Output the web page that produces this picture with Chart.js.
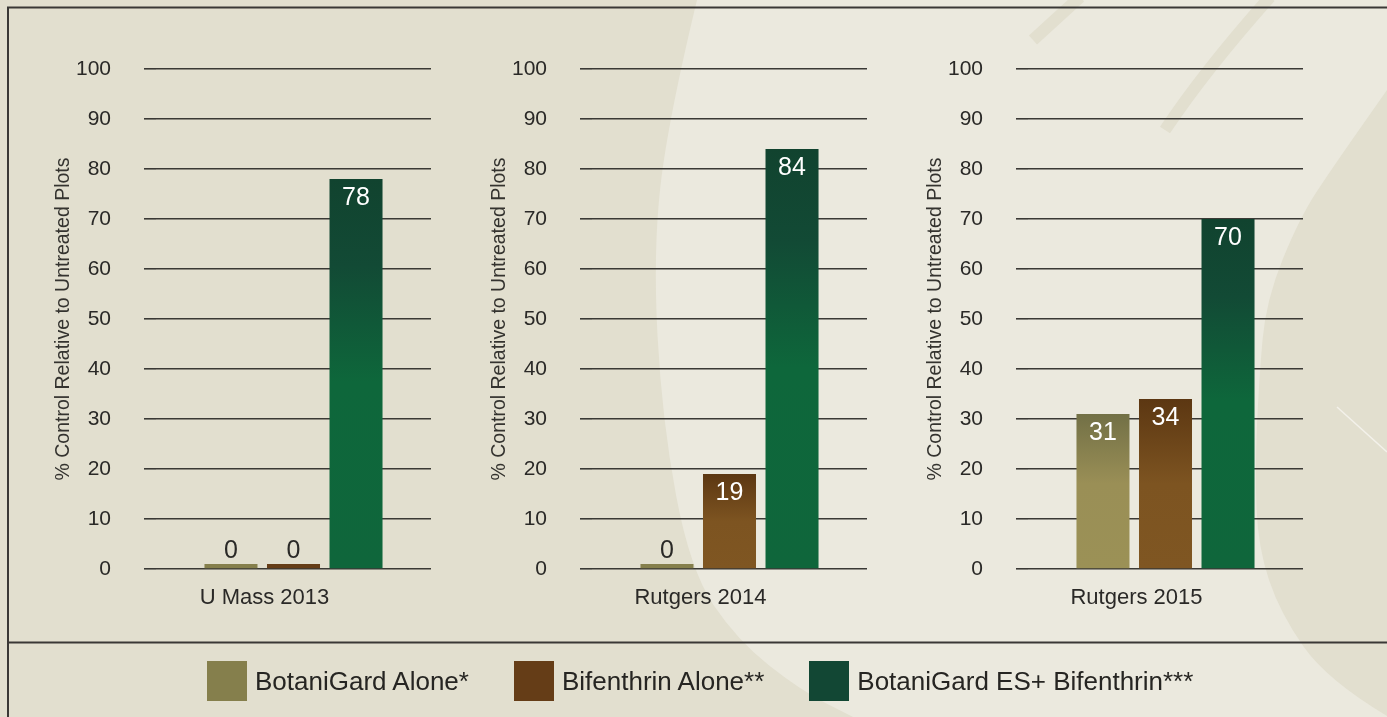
<!DOCTYPE html>
<html>
<head>
<meta charset="utf-8">
<script src="https://cdn.jsdelivr.net/npm/chart.js@4.4.1/dist/chart.umd.min.js"></script>
<style>
  html, body { margin: 0; padding: 0; width: 1387px; height: 717px; overflow: hidden; background: #e2dfcf; font-family: 'Liberation Sans', Arial, sans-serif; }
  #bg { position: absolute; left: 0; top: 0; }
  .panel { position: absolute; top: 0; width: 436px; height: 640px; }
  #legend { position: absolute; left: 207px; top: 661px; display: flex; gap: 45px; }
  .item { display: flex; align-items: center; height: 40px; }
  .sw { width: 40px; height: 40px; }
  .lbl { margin-left: 8px; font-size: 26px; color: #262522; white-space: nowrap; }
</style>
</head>
<body>
<canvas id="bg" width="1387" height="717"></canvas>
<div class="panel" style="left:0px"><canvas id="c0"></canvas></div>
<div class="panel" style="left:436px"><canvas id="c1"></canvas></div>
<div class="panel" style="left:872px"><canvas id="c2"></canvas></div>
<div id="legend"></div>
<script>
// ---- data ----
const studies = ['U Mass 2013', 'Rutgers 2014', 'Rutgers 2015'];
const seriesNames = ['BotaniGard Alone*', 'Bifenthrin Alone**', 'BotaniGard ES+ Bifenthrin***'];
const botaniGardAlone = [0, 0, 31];
const bifenthrinAlone = [0, 19, 34];
const botaniGardPlusBifenthrin = [78, 84, 70];
const yMax = 100;
const yStep = 10;
const yTitle = '% Control Relative to Untreated Plots';

// ---- styles ----
const swatch = ['#857f4c', '#653d17', '#124734'];
const fills = [
  [[0, '#727046'], [0.45, '#9a8f56'], [1, '#9b9156']],
  [[0, '#5c3712'], [0.5, '#7d5421'], [1, '#7f5622']],
  [[0, '#11432f'], [0.22, '#124a35'], [0.52, '#0e673b'], [1, '#0f663b']]
];
const textColor = '#2a2927';
Chart.defaults.font.family = "'Liberation Sans', Arial, sans-serif";

// ---- background ----
function smooth(ctx, pts) {
  ctx.lineTo(pts[0][0], pts[0][1]);
  for (let i = 1; i < pts.length - 1; i++) {
    const mx = (pts[i][0] + pts[i + 1][0]) / 2, my = (pts[i][1] + pts[i + 1][1]) / 2;
    ctx.quadraticCurveTo(pts[i][0], pts[i][1], mx, my);
  }
  const last = pts[pts.length - 1];
  ctx.lineTo(last[0], last[1]);
}

function drawBackground() {
  const c = document.getElementById('bg').getContext('2d');
  c.fillStyle = '#e2dfcf';
  c.fillRect(0, 0, 1387, 717);

  // lighter swoosh
  c.fillStyle = '#ebe9de';
  c.beginPath();
  c.moveTo(697, 0);
  smooth(c, [[697, 0], [668, 120], [653, 251], [662, 420], [690, 570], [737, 640], [800, 690], [853, 717]]);
  c.lineTo(1387, 717);
  smooth(c, [[1387, 716], [1327, 680], [1280, 613], [1258, 547], [1255, 470], [1259, 380], [1266, 300], [1300, 217], [1333, 167], [1387, 90]]);
  c.lineTo(1387, 0);
  c.closePath();
  c.fill();

  // stripes
  c.strokeStyle = '#e2dfcf';
  c.lineWidth = 12;
  c.beginPath(); c.moveTo(1033, 40); c.lineTo(1080, -3); c.stroke();
  c.beginPath(); c.moveTo(1165, 130); c.quadraticCurveTo(1205, 70, 1270, -3); c.stroke();

  c.strokeStyle = '#f3f1ea';
  c.lineWidth = 1.5;
  c.beginPath(); c.moveTo(1337, 407); c.lineTo(1387, 452); c.stroke();

  // frame lines
  c.strokeStyle = '#3a3836';
  c.lineWidth = 2;
  c.beginPath();
  c.moveTo(1387, 7.5); c.lineTo(8, 7.5); c.lineTo(8, 717);
  c.moveTo(8, 642.5); c.lineTo(1387, 642.5);
  c.stroke();
}
drawBackground();

// ---- bars ----
function barFill(stops, solid) {
  return (ctx) => {
    const chart = ctx.chart;
    if (ctx.type !== 'data' || !chart.chartArea) return solid;
    const v = ctx.raw;
    if (!v) return solid;
    const y = chart.scales.y;
    const top = y.getPixelForValue(v), base = y.getPixelForValue(0);
    const g = chart.ctx.createLinearGradient(0, top, 0, base);
    stops.forEach(([p, col]) => g.addColorStop(p, col));
    return g;
  };
}

const valueLabels = {
  id: 'valueLabels',
  afterDatasetsDraw(chart) {
    const ctx = chart.ctx;
    ctx.save();
    ctx.font = "25px 'Liberation Sans', Arial, sans-serif";
    ctx.textAlign = 'center';
    ctx.textBaseline = 'middle';
    chart.data.datasets.forEach((ds, i) => {
      chart.getDatasetMeta(i).data.forEach((bar, j) => {
        const v = ds.data[j];
        if (v === 0) {
          ctx.fillStyle = textColor;
          ctx.fillText(String(v), bar.x, bar.y - 13);
        } else {
          ctx.fillStyle = '#ffffff';
          ctx.fillText(String(v), bar.x, bar.y + 19);
        }
      });
    });
    ctx.restore();
  }
};

const seriesData = [botaniGardAlone, bifenthrinAlone, botaniGardPlusBifenthrin];

studies.forEach((study, k) => {
  new Chart(document.getElementById('c' + k), {
    type: 'bar',
    data: {
      labels: [study],
      datasets: seriesNames.map((name, s) => ({
        label: name,
        data: [seriesData[s][k]],
        backgroundColor: barFill(fills[s], swatch[s]),
        borderWidth: 0,
        minBarLength: 5,
        categoryPercentage: 0.682,
        barPercentage: 0.848,
        clip: false
      }))
    },
    options: {
      responsive: true,
      maintainAspectRatio: false,
      animation: false,
      layout: { padding: { top: 69, right: 5, left: 0, bottom: 0 } },
      plugins: { legend: { display: false }, tooltip: { enabled: false } },
      scales: {
        x: {
          grid: { display: false, drawTicks: false },
          border: { display: false },
          ticks: { color: textColor, font: { size: 22 }, padding: 16, labelOffset: -29 },
          afterFit(s) { s.height = 71; }
        },
        y: {
          min: 0,
          max: yMax,
          ticks: { stepSize: yStep, color: textColor, font: { size: 21 }, padding: 33 },
          grid: { color: '#3a3935', lineWidth: 1.6, tickLength: 12, drawTicks: true },
          border: { display: false },
          title: { display: true, text: yTitle, color: '#34332f', font: { size: 19.5 }, padding: { top: 52, bottom: 0 } },
          afterFit(s) { s.width = 156; }
        }
      }
    },
    plugins: [valueLabels]
  });
});

// ---- legend ----
const legend = document.getElementById('legend');
seriesNames.forEach((name, s) => {
  const item = document.createElement('div');
  item.className = 'item';
  item.innerHTML = `<div class="sw" style="background:${swatch[s]}"></div><span class="lbl">${name}</span>`;
  legend.appendChild(item);
});
</script>
</body>
</html>
